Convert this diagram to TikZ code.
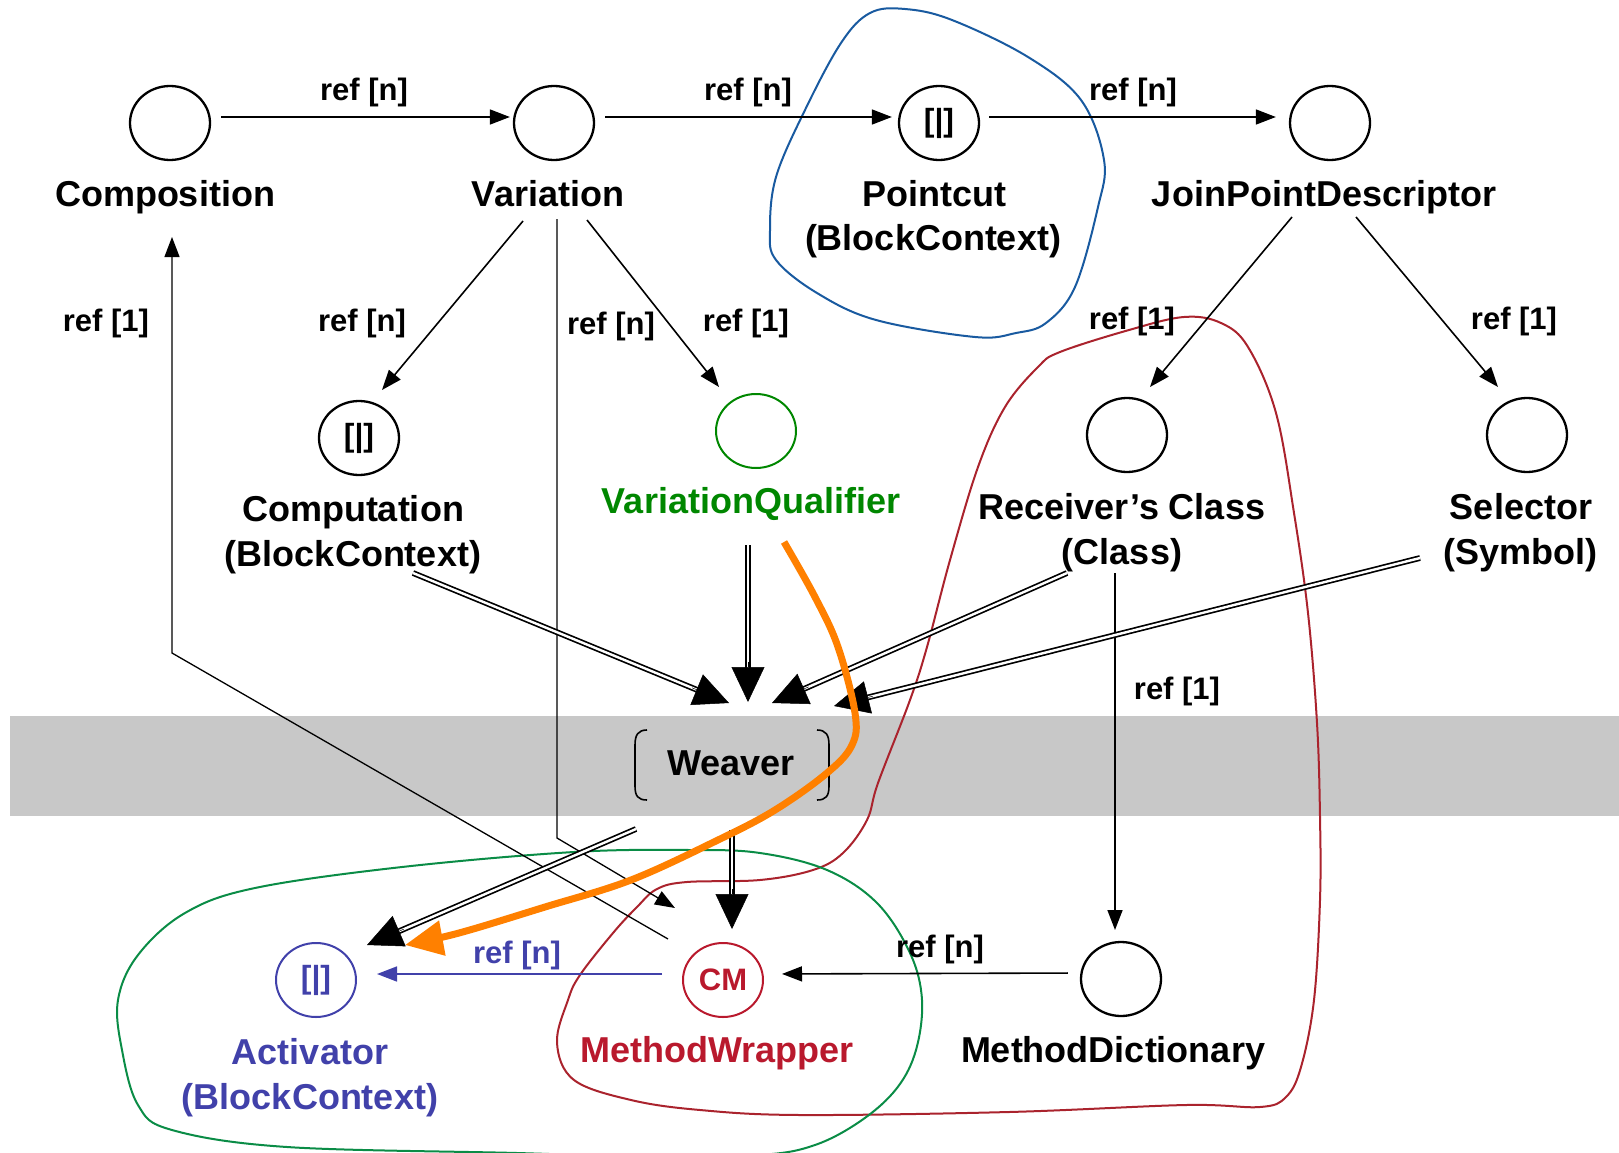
\documentclass[tikz,border=0pt]{standalone}
\usepackage{fontspec}
\setmainfont{Liberation Sans}
\usetikzlibrary{arrows.meta,shapes.geometric,calc}
\definecolor{bandgray}{RGB}{200,200,200}
\definecolor{blobblue}{RGB}{25,90,160}
\definecolor{blobred}{RGB}{170,35,45}
\definecolor{blobgreen}{RGB}{10,140,70}
\definecolor{qualgreen}{RGB}{0,135,0}
\definecolor{actblue}{RGB}{65,65,170}
\definecolor{mwred}{RGB}{185,25,45}
\definecolor{orng}{RGB}{255,128,0}
\newcommand\dblarr[2]{\draw[dbl,shorten >=30pt] (#1) -- (#2); \draw[bighead] ($(#2)!40pt!(#1)$) -- (#2);}
\begin{document}
\begin{tikzpicture}[x=1pt,y=-1pt,
 obj/.style={ellipse,draw,line width=2.3pt,minimum width=80pt,minimum height=74pt,inner sep=0pt,font=\fontsize{32}{34}\selectfont\bfseries},
 lbl/.style={font=\fontsize{36}{43}\selectfont\bfseries,inner sep=0pt,anchor=base},
 reflbl/.style={font=\fontsize{31}{36}\selectfont\bfseries,inner sep=0pt,anchor=base},
 arr/.style={line width=1.6pt,-{Triangle[length=20pt,width=15pt]}},
 dbl/.style={double,double distance=2.4pt,line width=1.7pt},
 bighead/.style={line width=0.5pt,-{Triangle[length=35pt,width=33pt]}},
 blob/.style={line width=2pt},
]
\useasboundingbox (0,0) rectangle (1619,1153);
\fill[bandgray] (10,716) rectangle (1619,816);

% blobs
\draw[blob,blobblue] plot[smooth cycle,tension=0.6] coordinates {(905,9) (952,20) (1028,57) (1081,100) (1104,160) (1098,207) (1075,287) (1046,323) (1016,333) (975,337) (876,320) (817,293) (776,260) (770,230) (776,177) (805,110) (841,43) (870,13)};
\draw[blob,blobred] plot[smooth cycle,tension=0.6] coordinates {(1184,317) (1221,323) (1248,347) (1276,413) (1294,513) (1308,613) (1317,723) (1320,817) (1320,900) (1314,1000) (1301,1067) (1286,1097) (1260,1107) (1186,1105) (1009,1112) (800,1115) (700,1110) (631,1100) (574,1080) (557,1043) (568,1000) (580,975) (613,933) (637,907) (657,889) (687,882) (760,880) (813,870) (843,853) (867,820) (878,783) (910,700) (927,647) (950,560) (978,467) (1005,407) (1038,367) (1060,352) (1129,330)};
\draw[blob,blobgreen] plot[smooth cycle,tension=0.6] coordinates {(690,850) (760,853) (827,870) (877,903) (910,953) (922,1000) (916,1050) (897,1088) (862,1120) (815,1145) (760,1155) (650,1157) (517,1153) (287,1147) (172,1130) (138,1105) (122,1050) (118,1000) (138,955) (185,913) (255,888) (402,867) (574,852)};

% object nodes
\node[obj] (comp) at (170,123) {};
\node[obj] (var) at (554,123) {};
\node[obj] (pc) at (939,123) {[|]};
\node[obj] (jpd) at (1330,123) {};
\node[obj] (cmp) at (359,438) {[|]};
\node[obj,draw=qualgreen,line width=2pt] (vq) at (756,431) {};
\node[obj] (rc) at (1127,435) {};
\node[obj] (sel) at (1527,435) {};
\node[obj,draw=actblue,text=actblue,line width=2pt] (act) at (316,980) {[|]};
\node[obj,draw=mwred,text=mwred,line width=2pt,font=\fontsize{31}{33}\selectfont\bfseries] (mw) at (723,980) {CM};
\node[obj] (md) at (1121,979) {};

% labels
\node[lbl] (compL) at (165,206) {Composition};
\node[lbl] (varL) at (548,206) {Variation};
\node[lbl] (pcL1) at (934,206) {Pointcut};
\node[lbl] (pcL2) at (933,250) {(BlockContext)};
\node[lbl] (jpdL) at (1324,206) {JoinPointDescriptor};
\node[lbl] (cmpL1) at (353,521) {Computation};
\node[lbl] (cmpL2) at (353,566) {(BlockContext)};
\node[lbl,text=qualgreen] (vqL) at (751,513) {VariationQualifier};
\node[lbl] (rcL1) at (1122,519) {Receiver’s Class};
\node[lbl] (rcL2) at (1122,564) {(Class)};
\node[lbl] (selL1) at (1521,519) {Selector};
\node[lbl] (selL2) at (1520,564) {(Symbol)};
\node[lbl,text=actblue] (actL1) at (310,1064) {Activator};
\node[lbl,text=actblue] (actL2) at (310,1109) {(BlockContext)};
\node[lbl,text=mwred] (mwL) at (717,1062) {MethodWrapper};
\node[lbl] (mdL) at (1113,1062) {MethodDictionary};
\node[lbl] (weaver) at (731,775) {Weaver};
\draw[line width=1.6pt] (647,730) .. controls (638,730) and (635,735) .. (635,745) -- (635,786) .. controls (635,796) and (638,800) .. (647,800);
\draw[line width=1.6pt] (817,730) .. controls (826,730) and (829,735) .. (829,745) -- (829,786) .. controls (829,796) and (826,800) .. (817,800);

% ref labels
\node[reflbl] (r1) at (364,101) {ref [n]};
\node[reflbl] (r2) at (748,101) {ref [n]};
\node[reflbl] (r3) at (1133,101) {ref [n]};
\node[reflbl] (r4) at (106,331) {ref [1]};
\node[reflbl] (r5) at (362,331) {ref [n]};
\node[reflbl] (r6) at (611,334) {ref [n]};
\node[reflbl] (r7) at (746,331) {ref [1]};
\node[reflbl] (r8) at (1132,329) {ref [1]};
\node[reflbl] (r9) at (1514,329) {ref [1]};
\node[reflbl] (r10) at (1177,699) {ref [1]};
\node[reflbl] (r11) at (940,957) {ref [n]};
\node[reflbl,text=actblue] (r12) at (517,963) {ref [n]};

% coordinates for connector ends
\coordinate (vs1) at (523,221);
\coordinate (ct1) at (382,390);
\coordinate (vs2) at (557,219);
\coordinate (vb2) at (557,838);
\coordinate (mt2) at (675,908);
\coordinate (vs3) at (587,220);
\coordinate (qt3) at (719,387);
\coordinate (ms4) at (668,939);
\coordinate (mb4) at (172,653);
\coordinate (ct4) at (172,237);
\coordinate (js5) at (1292,217);
\coordinate (rt5) at (1150,387);
\coordinate (js6) at (1356,217);
\coordinate (st6) at (1498,387);
\coordinate (rs7) at (1115,573);
\coordinate (mt7) at (1115,930);
\coordinate (d1s) at (413,573);
\coordinate (d1t) at (729,703);
\coordinate (d2s) at (748,545);
\coordinate (d2t) at (748,702);
\coordinate (d3s) at (1067,573);
\coordinate (d3t) at (772,703);
\coordinate (d4s) at (1420,558);
\coordinate (d4t) at (834,706);
\coordinate (d5s) at (636,829);
\coordinate (d5t) at (367,945);
\coordinate (d6s) at (732,830);
\coordinate (d6t) at (732,929);

% top row
\draw[arr,shorten <=10pt,shorten >=3pt] ([yshift=6pt]comp.east) -- ([yshift=6pt]var.west);
\draw[arr,shorten <=10pt,shorten >=6pt] ([yshift=6pt]var.east) -- ([yshift=6pt]pc.west);
\draw[arr,shorten <=9pt,shorten >=13pt] ([yshift=6pt]pc.east) -- ([yshift=6pt]jpd.west);

% single connectors
\draw[arr] (vs1) -- (ct1);
\draw[arr,line width=1.3pt] (vs2) -- (vb2) -- (mt2);
\draw[arr] (vs3) -- (qt3);
\draw[arr,line width=1.3pt] (ms4) -- (mb4) -- (ct4);
\draw[arr] (js5) -- (rt5);
\draw[arr] (js6) -- (st6);
\draw[arr] (rs7) -- (mt7);
\draw[arr,shorten <=12pt,shorten >=18pt] ([yshift=6pt]md.west) -- ([yshift=6pt]mw.east);
\draw[arr,actblue,shorten <=20pt,shorten >=20pt] ([yshift=6pt]mw.west) -- ([yshift=6pt]act.east);

% double connectors
\dblarr{d1s}{d1t}
\dblarr{d2s}{d2t}
\dblarr{d3s}{d3t}
\dblarr{d4s}{d4t}
\dblarr{d5s}{d5t}
\dblarr{d6s}{d6t}

% orange
\draw[orng,line width=7pt,-{Triangle[length=38pt,width=34pt]}] plot[smooth,tension=0.6] coordinates {(784,542) (815,597) (838,647) (855,713) (852,745) (827,773) (775,810) (718,840) (631,880) (545,907) (459,933) (405,945)};
\end{tikzpicture}
\end{document}
